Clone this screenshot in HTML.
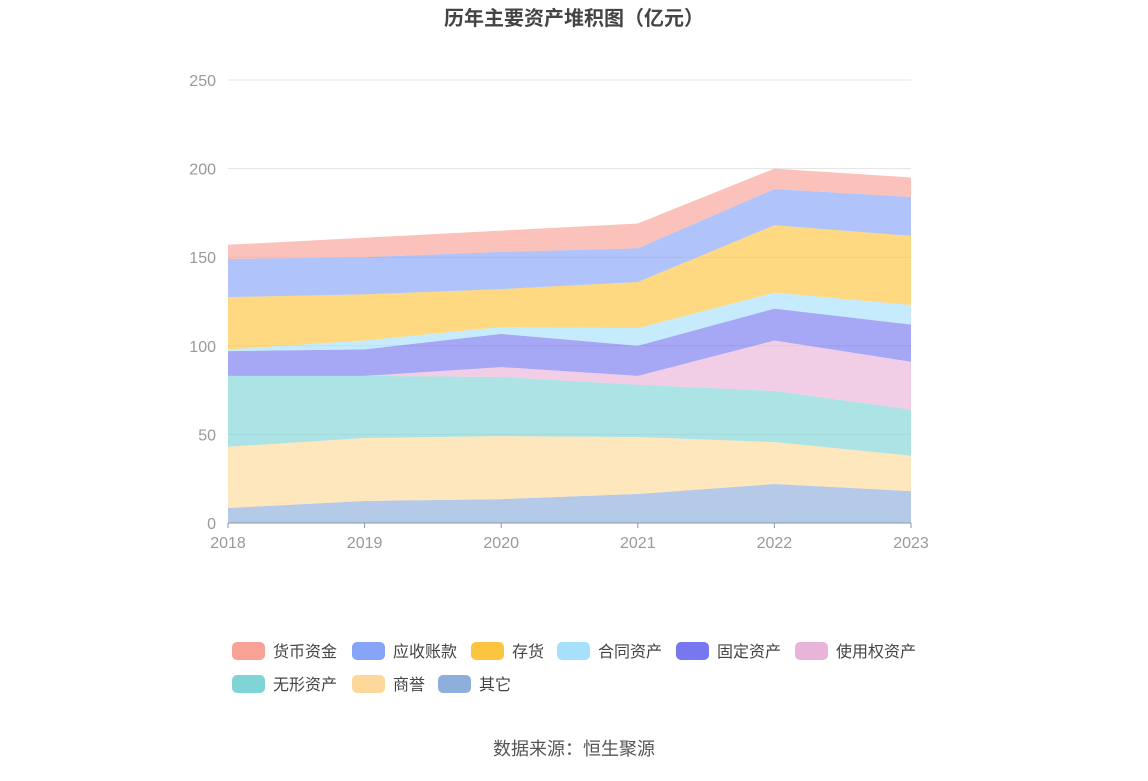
<!DOCTYPE html>
<html><head><meta charset="utf-8"><style>
body{margin:0;background:#fff;font-family:"Liberation Sans","Noto Sans CJK SC",sans-serif}
svg text{font-family:"Liberation Sans","Noto Sans CJK SC",sans-serif}
</style></head><body>
<svg id="chart" width="1148" height="776" xmlns="http://www.w3.org/2000/svg">
<text x="574" y="25" text-anchor="middle" font-size="20" font-weight="bold" fill="#444">历年主要资产堆积图（亿元）</text>
<g id="grid"></g><g id="areas"></g><g id="axes"></g><g id="legend"></g>
<text x="574" y="755" text-anchor="middle" font-size="18" fill="#555">数据来源：恒生聚源</text>
</svg>
<script>
const years = ["2018","2019","2020","2021","2022","2023"];
const yTicks = [0,50,100,150,200,250];
const seriesNames = ["其它","商誉","无形资产","使用权资产","固定资产","合同资产","存货","应收账款","货币资金"];
const other = [8.5,12.4,13.5,16.4,22,18];
const goodwill = [34.5,35.6,35.5,32.1,23.7,20];
const intangible = [40,35,33.4,29.5,28.8,26];
const rightOfUse = [0,0,5.6,5,28.5,27];
const fixedAssets = [14,15,18.7,17,18,21];
const contractAssets = [1,5,3.9,10,9,11];
const inventory = [29.5,26,21.4,26,38,39];
const receivables = [21.5,21,21,19,20.5,22];
const cash = [8,11,12,14,11.5,11];
const seriesValues = [other,goodwill,intangible,rightOfUse,fixedAssets,contractAssets,inventory,receivables,cash];
const colors = ["#8eaedc","#fdd89a","#7fd4d5","#e9b4d9","#7778f0","#a6e0fa","#fdc43f","#86a5f9","#f8a195"];
const slugs = ["other","goodwill","intangible","right-of-use","fixed-assets","contract-assets","inventory","receivables","cash"];
const NS="http://www.w3.org/2000/svg";
const x0=228,x1=911,y0=523,y1=80;
const xS=i=>x0+(x1-x0)*i/(years.length-1);
const yS=v=>y0-(y0-y1)*v/250;
function mk(t,a,p){const e=document.createElementNS(NS,t);for(const k in a)e.setAttribute(k,a[k]);p.appendChild(e);return e;}
const grid=document.getElementById('grid'),axes=document.getElementById('axes'),areas=document.getElementById('areas'),legend=document.getElementById('legend');
yTicks.forEach(t=>{
  if(t>0){const l=mk('line',{x1:x0,x2:x1,y1:yS(t),y2:yS(t),stroke:'#e3e3e3'},grid);
  
  }
  const tx=mk('text',{x:216,y:yS(t)+6,'text-anchor':'end','font-size':16,fill:'#999'},axes);tx.textContent=t;
  
  
});
let base=years.map(()=>0);
seriesValues.forEach((vals,s)=>{
  const top=base.map((b,i)=>b+vals[i]);
  let d='M'+top.map((v,i)=>xS(i)+','+yS(v)).join('L');
  for(let i=years.length-1;i>=0;i--)d+='L'+xS(i)+','+yS(base[i]);
  const p=mk('path',{d:d+'Z',fill:colors[s],'fill-opacity':0.65,stroke:'none'},areas);
  
  
  base=top;
});
const ax=mk('line',{x1:x0,x2:x1,y1:y0,y2:y0,stroke:'#8a95a8'},axes);


years.forEach((y,i)=>{
  const tk=mk('line',{x1:xS(i),x2:xS(i),y1:y0,y2:y0+5,stroke:'#8a95a8'},axes);
  
  
  const t=mk('text',{x:xS(i),y:548,'text-anchor':'middle','font-size':16,fill:'#999'},axes);t.textContent=y;
  
  
});
const legOrder=[8,7,6,5,4,3,2,1,0];
const legPos=[[232,651],[352,651],[471,651],[557,651],[676,651],[795,651],[232,684],[352,684],[438,684]];
legOrder.forEach((s,k)=>{
  const g=mk('g',{},legend);
  
  
  const [lx,ly]=legPos[k];
  mk('rect',{x:lx,y:ly-9,width:33,height:18,rx:5,fill:colors[s]},g);
  const t=mk('text',{x:lx+41,y:ly+6,'font-size':16,fill:'#444'},g);t.textContent=seriesNames[s];
});
</script>
</body></html>
